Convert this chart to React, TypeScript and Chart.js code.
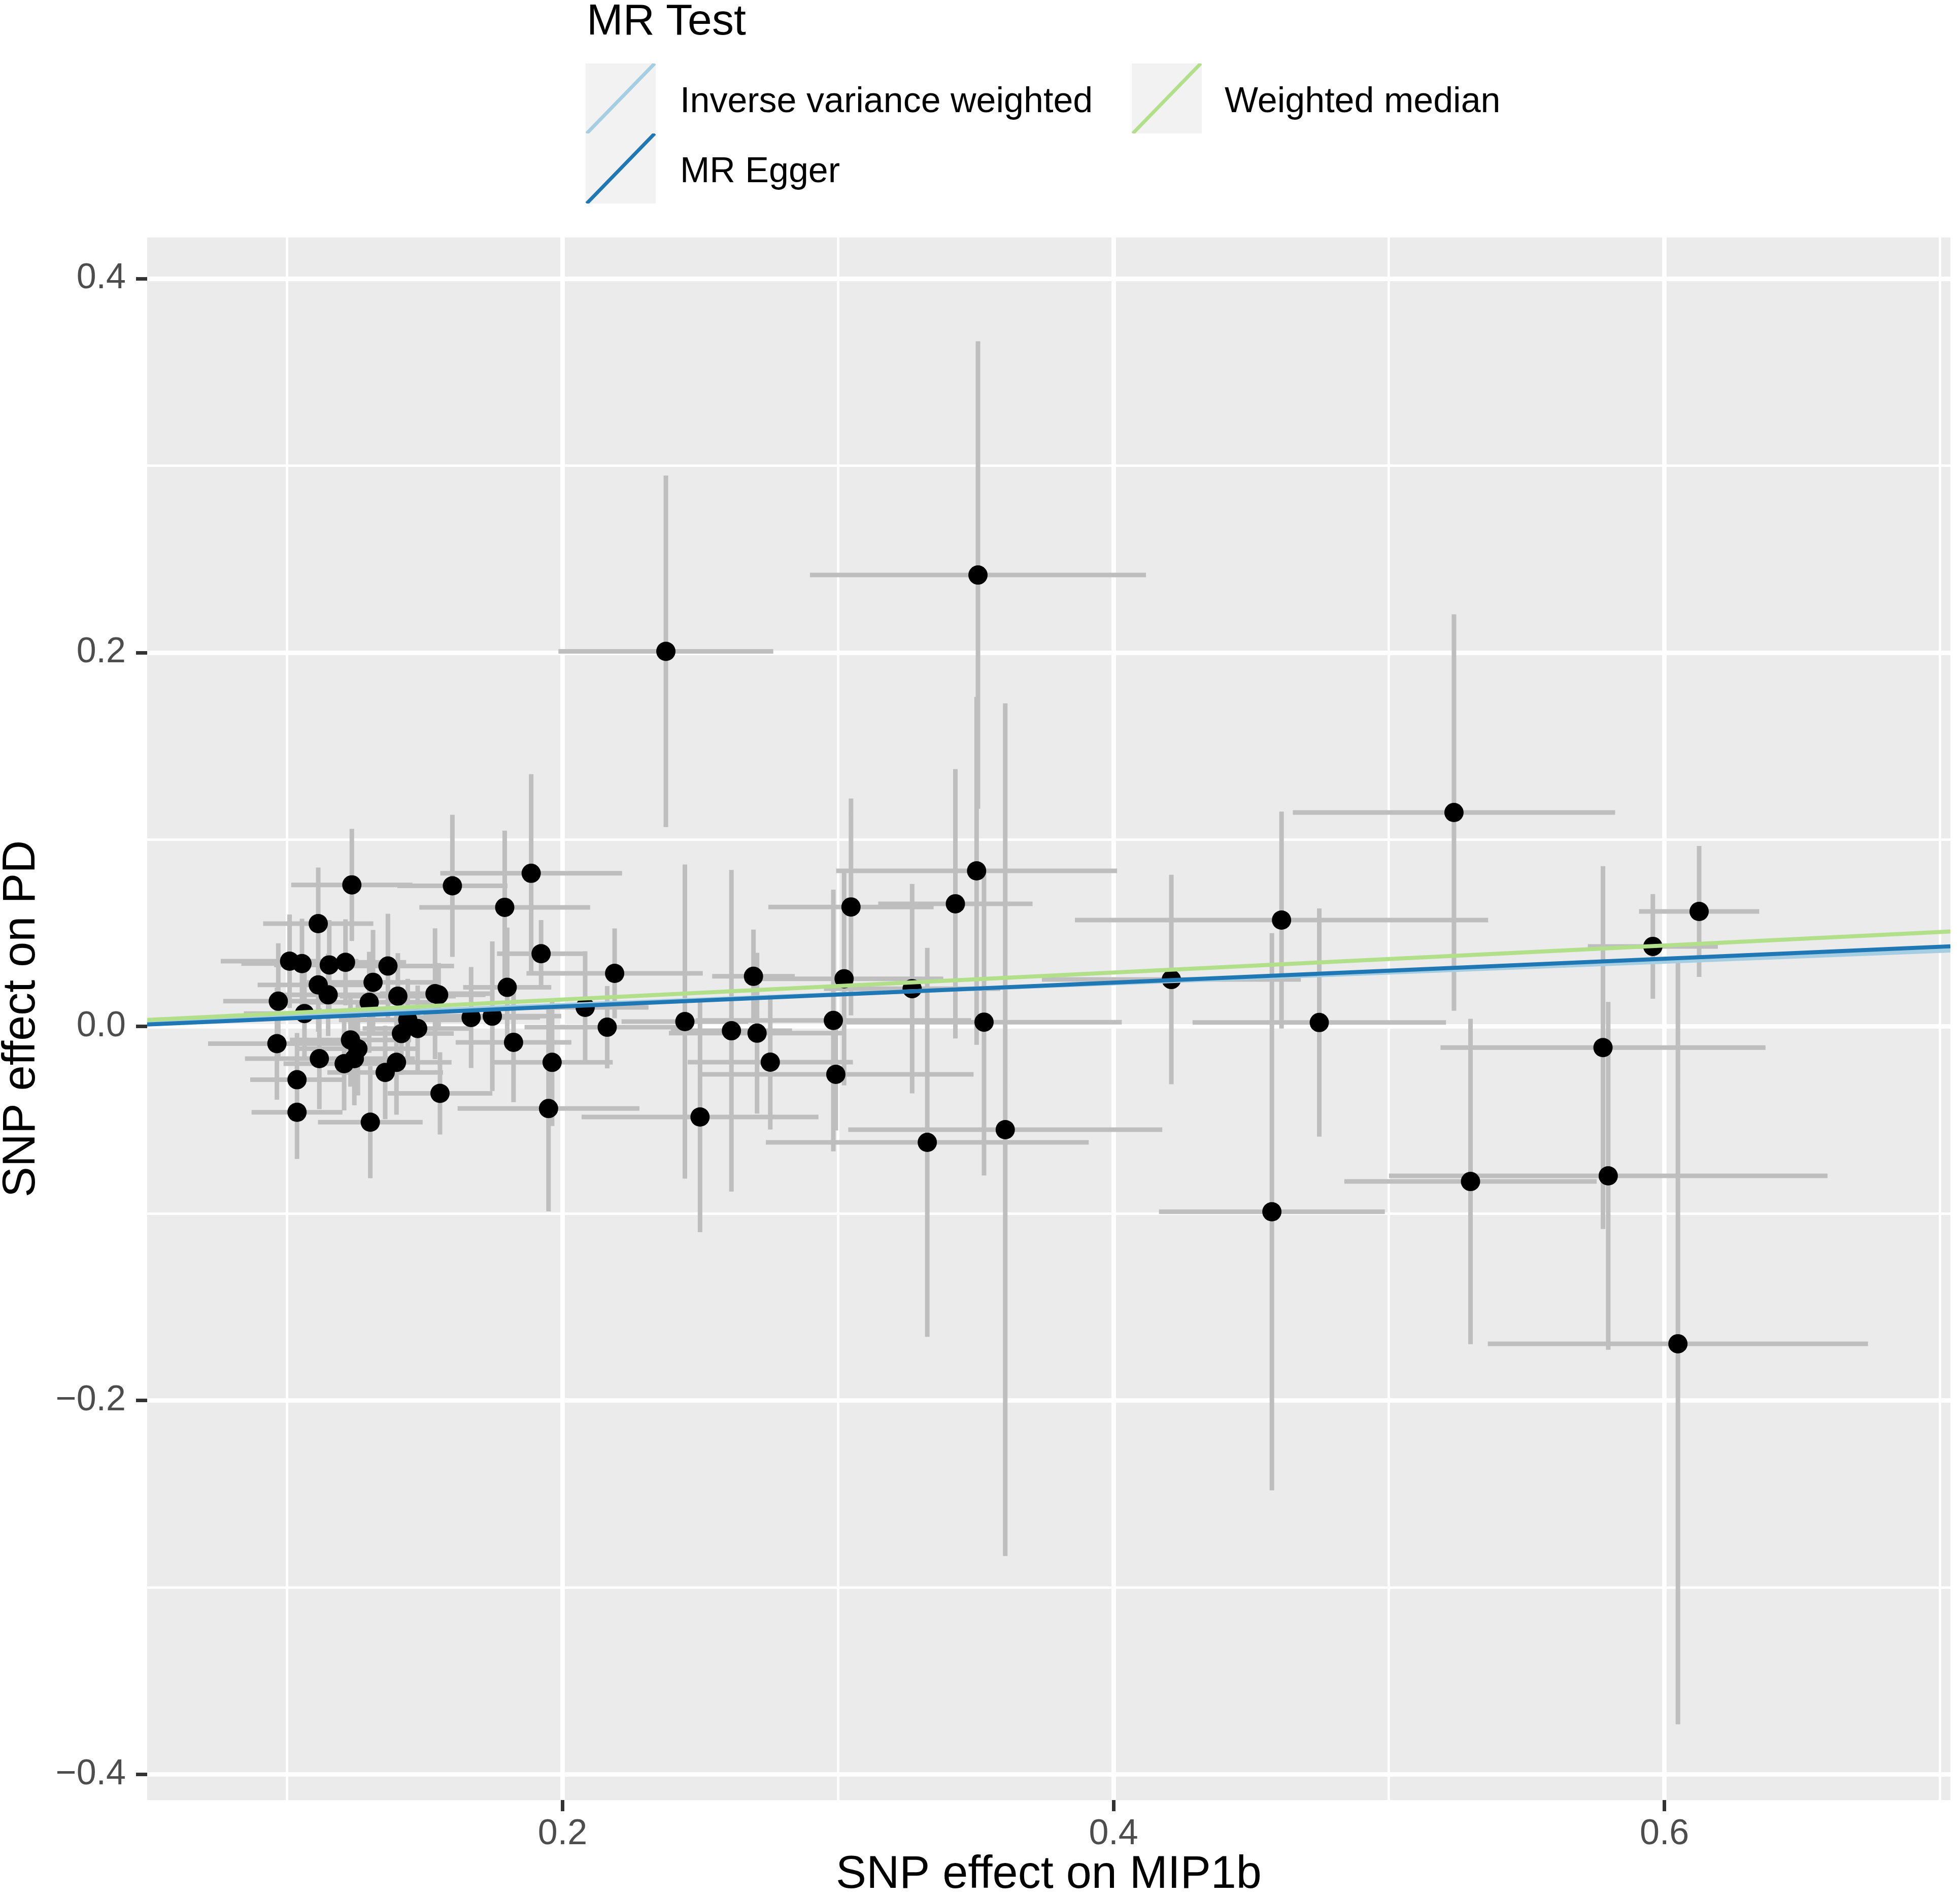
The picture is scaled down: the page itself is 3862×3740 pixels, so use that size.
import React, { useEffect, useRef } from "react";
import Chart from "chart.js/auto";

// SNP effects (exposure = MIP1b, outcome = PD)
const snpX = [
	0.2375, 0.3508, 0.5236, 0.6126, 0.5958, 0.461, 0.421, 0.4747, 0.5777, 0.5296,
	0.5796, 0.6049, 0.4575, 0.3607, 0.3324, 0.353, 0.3503, 0.3426, 0.3269, 0.3047,
	0.3022, 0.2983, 0.2992, 0.2693, 0.2706, 0.2754, 0.2613, 0.2444, 0.2499, 0.2189,
	0.2162, 0.2082,
	0.1235, 0.16, 0.1886, 0.1113, 0.179, 0.1922, 0.1009, 0.1054, 0.1153, 0.1212,
	0.1366, 0.1113, 0.1149, 0.1312, 0.1402, 0.1298, 0.1537, 0.155, 0.1799, 0.0968,
	0.1063, 0.1668, 0.1745, 0.1438, 0.1474, 0.1415, 0.0963, 0.123, 0.1257, 0.1244,
	0.1207, 0.1117, 0.1397, 0.1356, 0.1822, 0.1962, 0.1036, 0.1555, 0.1036, 0.1302,
	0.1949,
];
const snpY = [
	0.2007, 0.2415, 0.1145, 0.0616, 0.0429, 0.057, 0.0252, 0.0022, -0.0112, -0.0828,
	-0.0798, -0.1696, -0.099, -0.0551, -0.0619, 0.0024, 0.0833, 0.0657, 0.0203, 0.064,
	0.0256, 0.0033, -0.0255, 0.0269, -0.0035, -0.019, -0.0022, 0.0027, -0.0483, 0.0285,
	-0.0003, 0.0103,
	0.0758, 0.0753, 0.082, 0.0551, 0.0638, 0.039, 0.035, 0.0337, 0.033, 0.0344,
	0.0324, 0.0223, 0.017, 0.0237, 0.0163, 0.013, 0.0176, 0.017, 0.021, 0.0136,
	0.007, 0.0049, 0.0056, 0.0036, -0.001, -0.0037, -0.0091, -0.0071, -0.0118, -0.0171,
	-0.0198, -0.0171, -0.0191, -0.0245, -0.0084, -0.0191, -0.0284, -0.0357, -0.0458, -0.0511,
	-0.0438,
];
const seX = [
	0.039, 0.061, 0.0585, 0.0218, 0.0236, 0.075, 0.047, 0.046, 0.059, 0.0458,
	0.0796, 0.069, 0.041, 0.057, 0.0586, 0.05, 0.051, 0.028, 0.032, 0.03,
	0.036, 0.05, 0.05, 0.015, 0.032, 0.03, 0.022, 0.023, 0.043, 0.032,
	0.03, 0.023,
	0.022, 0.02, 0.033, 0.02, 0.031, 0.016, 0.025, 0.022, 0.02, 0.022,
	0.024, 0.022, 0.02, 0.024, 0.021, 0.023, 0.02, 0.017, 0.016, 0.02,
	0.022, 0.025, 0.025, 0.025, 0.02, 0.019, 0.025, 0.022, 0.022, 0.022,
	0.022, 0.027, 0.02, 0.021, 0.021, 0.022, 0.017, 0.019, 0.0165, 0.019,
	0.033,
];
const seY = [
	0.094, 0.125, 0.106, 0.035, 0.028, 0.058, 0.056, 0.061, 0.097, 0.087,
	0.093, 0.2035, 0.149, 0.228, 0.104, 0.082, 0.093, 0.072, 0.056, 0.058,
	0.057, 0.07, 0.03, 0.025, 0.043, 0.036, 0.086, 0.084, 0.0616, 0.024,
	0.022, 0.03,
	0.03, 0.038, 0.053, 0.03, 0.041, 0.018, 0.025, 0.024, 0.024, 0.023,
	0.028, 0.025, 0.022, 0.028, 0.023, 0.027, 0.035, 0.017, 0.032, 0.031,
	0.025, 0.027, 0.04, 0.022, 0.023, 0.022, 0.03, 0.025, 0.025, 0.025,
	0.025, 0.027, 0.028, 0.025, 0.032, 0.034, 0.025, 0.022, 0.025, 0.03,
	0.055,
];

// MR fits
const methods = ["Inverse variance weighted", "MR Egger", "Weighted median"];
const methodSlopes = [0.0578, 0.0639, 0.0723];
const methodIntercepts = [0, -0.002, 0];
const methodColors = ["#A6CEE3", "#1F78B4", "#B2DF8A"];

const X_MIN = 0.0492;
const X_MAX = 0.7038;
const Y_MIN = -0.4136;
const Y_MAX = 0.422;

const W = 3862;
const H = 3740;
const FONT = '"Liberation Sans", Arial, Helvetica, sans-serif';

const isMajor = (v: number) => Math.round(v * 10) % 2 === 0;
const fmt = (v: number) => {
	const s = Math.abs(v).toFixed(1);
	return v < -1e-9 ? "\u2212" + s : s;
};

const panelBg = {
	id: "panelBg",
	beforeDraw(chart: any) {
		const { ctx, chartArea: a } = chart;
		ctx.save();
		ctx.fillStyle = "#EBEBEB";
		ctx.fillRect(a.left, a.top, a.right - a.left, a.bottom - a.top);
		ctx.restore();
	},
};

const MRScatter: React.FC = () => {
	const chartRef = useRef<HTMLCanvasElement>(null);

	useEffect(() => {
		if (!chartRef.current) return;

		const hBars: any[] = [];
		const vBars: any[] = [];
		snpX.forEach((x, i) => {
			const y = snpY[i];
			hBars.push({ x: x - seX[i], y }, { x: x + seX[i], y }, { x, y: null });
			vBars.push({ x, y: y - seY[i] }, { x, y: y + seY[i] }, { x, y: null });
		});

		const fitSets = methods.map((m, k) => ({
			type: "line" as const,
			label: m,
			data: [X_MIN, X_MAX].map((x) => ({ x, y: methodIntercepts[k] + methodSlopes[k] * x })),
			borderColor: methodColors[k],
			borderWidth: 8,
			pointRadius: 0,
			showLine: true,
			order: k === 1 ? 0 : k === 2 ? -1 : 0.5,
		}));

		const barStyle = {
			type: "line" as const,
			borderColor: "#BEBEBE",
			borderWidth: 9,
			pointRadius: 0,
			showLine: true,
			spanGaps: false,
			order: 3,
		};

		const gridOpts = {
			color: "#FFFFFF",
			lineWidth: (c: any) => (isMajor(c.tick?.value ?? 0) ? 9 : 5),
			tickLength: 22,
			tickWidth: 7,
			tickColor: (c: any) => (isMajor(c.tick?.value ?? 0) ? "#333333" : "rgba(0,0,0,0)"),
		};

		const chart = new Chart(chartRef.current, {
			type: "scatter",
			data: {
				datasets: [
					...fitSets,
					{
						label: "SNPs",
						data: snpX.map((x, i) => ({ x, y: snpY[i] })),
						backgroundColor: "#000000",
						borderWidth: 0,
						pointRadius: 19,
						order: 2,
					},
					{ ...barStyle, label: "se x", data: hBars },
					{ ...barStyle, label: "se y", data: vBars },
				] as any,
			},
			options: {
				responsive: false,
				animation: false,
				devicePixelRatio: 1,
				events: [],
				layout: { padding: { top: 468, right: 6, bottom: 0, left: 0 } },
				plugins: {
					legend: { display: false },
					tooltip: { enabled: false },
				},
				scales: {
					x: {
						type: "linear",
						min: X_MIN,
						max: X_MAX,
						afterFit: (s: any) => {
							s.height = 193;
						},
						border: { display: false },
						grid: gridOpts,
						ticks: {
							stepSize: 0.1,
							includeBounds: false,
							autoSkip: false,
							maxRotation: 0,
							padding: 4,
							color: "#4D4D4D",
							font: { family: FONT, size: 70 },
							callback: (v: any) => (isMajor(Number(v)) ? fmt(Number(v)) : ""),
						},
						title: {
							display: true,
							text: "SNP effect on MIP1b",
							color: "#000000",
							font: { family: FONT, size: 90, lineHeight: 1 },
							padding: 0,
						},
					},
					y: {
						type: "linear",
						min: Y_MIN,
						max: Y_MAX,
						afterFit: (s: any) => {
							s.width = 290;
						},
						border: { display: false },
						grid: gridOpts,
						ticks: {
							stepSize: 0.1,
							includeBounds: false,
							autoSkip: false,
							padding: 20,
							color: "#4D4D4D",
							font: { family: FONT, size: 70 },
							callback: (v: any) => (isMajor(Number(v)) ? fmt(Number(v)) : ""),
						},
						title: {
							display: true,
							text: "SNP effect on PD",
							color: "#000000",
							font: { family: FONT, size: 90, lineHeight: 0.95 },
							padding: 0,
						},
					},
				},
			},
			plugins: [panelBg],
		});

		return () => {
			chart.destroy();
		};
	}, []);

	return <canvas ref={chartRef} width={W} height={H} style={{ position: "absolute", left: 0, top: 0, width: W, height: H }} />;
};

const LegendKey: React.FC<{ left: number; top: number; color: string }> = ({ left, top, color }) => (
	<svg width={138} height={138} style={{ position: "absolute", left, top }}>
		<rect x={0} y={0} width={138} height={138} fill="#F2F2F2" />
		<line x1={2} y1={138} x2={136} y2={0} stroke={color} strokeWidth={7} />
	</svg>
);

const legendText = (left: number, top: number, size: number): React.CSSProperties => ({
	position: "absolute",
	left,
	top,
	fontFamily: FONT,
	fontSize: size,
	lineHeight: `${size}px`,
	color: "#000000",
	whiteSpace: "nowrap",
});

const App: React.FC = () => (
	<div style={{ position: "absolute", left: 0, top: 0, width: W, height: H, background: "#FFFFFF", overflow: "hidden" }}>
		<MRScatter />
		<div style={legendText(1156, -5, 86)}>MR Test</div>
		<LegendKey left={1154} top={125} color={methodColors[0]} />
		<LegendKey left={1154} top={263} color={methodColors[1]} />
		<LegendKey left={2230} top={125} color={methodColors[2]} />
		<div style={legendText(1340, 162, 70)}>{methods[0]}</div>
		<div style={legendText(1340, 300, 70)}>{methods[1]}</div>
		<div style={legendText(2413, 162, 70)}>{methods[2]}</div>
	</div>
);

export default App;
